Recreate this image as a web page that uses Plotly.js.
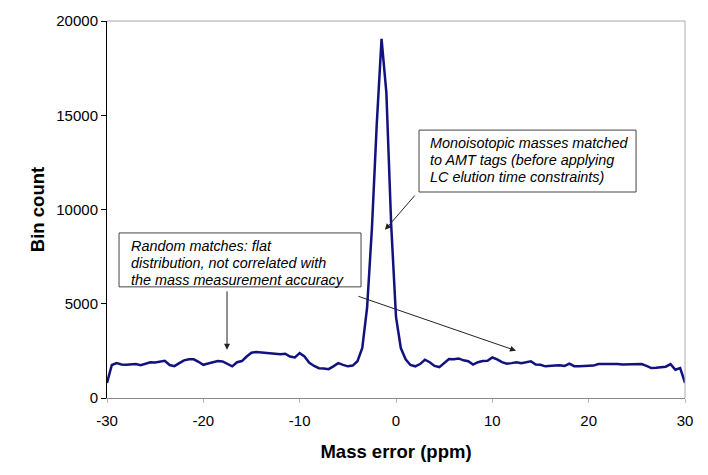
<!DOCTYPE html>
<html>
<head>
<meta charset="utf-8">
<script src="https://cdn.plot.ly/plotly-3.0.1.min.js"></script>
<style>html,body{margin:0;padding:0;background:#fff;}#chart{width:708px;height:475px;}</style>
</head>
<body>
<div id="chart"></div>
<script>
const massErrorStart = -30;
const massErrorStep = 0.5;
const binCounts = [
  800, 1750, 1850, 1780, 1760, 1800, 1800, 1740, 1820, 1900,
  1880, 1940, 1970, 1750, 1690, 1850, 2000, 2060, 2050, 1920,
  1760, 1830, 1900, 1960, 1940, 1830, 1680, 1900, 1960, 2200,
  2400, 2440, 2420, 2390, 2380, 2360, 2320, 2350, 2200, 2150,
  2380, 2200, 1870, 1700, 1580, 1570, 1530, 1680, 1850, 1760,
  1680, 1720, 1950, 2650, 4800, 9000, 14500, 19050, 16200, 9200,
  4300, 2650, 2050, 1750, 1680, 1800, 2030, 1900, 1700, 1640,
  1850, 2070, 2060, 2100, 2000, 1950, 1770, 1900, 1960, 1980,
  2150, 2050, 1900, 1820, 1850, 1900, 1850, 1900, 1950, 1780,
  1760, 1680, 1720, 1730, 1740, 1700, 1820, 1690, 1690, 1690,
  1690, 1720, 1800, 1800, 1820, 1800, 1800, 1780, 1780, 1770,
  1780, 1800, 1700, 1590, 1600, 1620, 1660, 1800, 1500, 1590,
  800
];
const massErrors = binCounts.map((_, i) => massErrorStart + i * massErrorStep);

const xTicks = [-30, -20, -10, 0, 10, 20, 30];
const yTicks = [0, 5000, 10000, 15000, 20000];

const randomLines = ["Random matches: flat", "distribution, not correlated with", "the mass measurement accuracy"];
const peakLines = ["Monoisotopic masses matched", "to AMT tags (before applying", "LC elution time constraints)"];

const font = "Liberation Sans, Arial, sans-serif";

const trace = {
  x: massErrors, y: binCounts, type: 'scatter', mode: 'lines',
  line: {color: '#12127f', width: 2.5}, hoverinfo: 'skip'
};

const arrowStyle = {showarrow: true, text: '', xref: 'x', yref: 'y', axref: 'x', ayref: 'y',
  arrowhead: 2, arrowsize: 1.2, arrowwidth: 1, arrowcolor: '#222'};

function textLines(lines, x, ys) {
  return lines.map((t, i) => ({
    text: t, x: x, y: ys[i], xref: 'x', yref: 'y', xanchor: 'left', yanchor: 'middle',
    showarrow: false, font: {family: font, size: 14.4, color: '#000', style: 'italic'}
  }));
}

const layout = {
  width: 708, height: 475,
  margin: {l: 107, r: 23, t: 21, b: 77},
  paper_bgcolor: '#fff', plot_bgcolor: '#fff',
  showlegend: false,
  xaxis: {
    range: [-30, 30], tickvals: xTicks, ticktext: xTicks.map(String),
    showgrid: false, zeroline: false, showline: true, linecolor: '#888', linewidth: 1,
    ticks: 'outside', ticklen: 4, tickcolor: '#bbb', ticklabelstandoff: 5,
    tickfont: {family: font, size: 15, color: '#000'},
    title: {text: '<b>Mass error (ppm)</b>', font: {family: font, size: 18.5, color: '#000'}, standoff: 17}
  },
  yaxis: {
    range: [0, 20000], tickvals: yTicks, ticktext: yTicks.map(String),
    showgrid: false, zeroline: false, showline: true, linecolor: '#000', linewidth: 1,
    ticks: 'outside', ticklen: 5, tickcolor: '#000',
    tickfont: {family: font, size: 15, color: '#000'},
    title: {text: '<b>Bin count</b>', font: {family: font, size: 18.5, color: '#000'}, standoff: 6}
  },
  shapes: [
    {type: 'line', xref: 'paper', yref: 'paper', x0: 0, x1: 1, y0: 1, y1: 1, line: {color: '#c4c4c4', width: 1.5}},
    {type: 'line', xref: 'paper', yref: 'paper', x0: 1, x1: 1, y0: 0, y1: 1, line: {color: '#aaa', width: 1}},
    {type: 'rect', xref: 'x', yref: 'y', x0: -28.75, x1: -3.63, y0: 5896, y1: 8756, line: {color: '#444', width: 1}, fillcolor: '#fff', layer: 'above'},
    {type: 'rect', xref: 'x', yref: 'y', x0: 2.39, x1: 24.92, y0: 10928, y1: 14212, line: {color: '#444', width: 1}, fillcolor: '#fff', layer: 'above'}
  ],
  annotations: [
    Object.assign({}, arrowStyle, {x: -17.54, y: 2560, ax: -17.54, ay: 5740}),
    Object.assign({}, arrowStyle, {x: 12.46, y: 2510, ax: -4.05, ay: 5420}),
    Object.assign({}, arrowStyle, {x: -1.14, y: 8920, ax: 2.08, ay: 10820})
  ].concat(
    textLines(randomLines, -27.72, [8067, 7167, 6266]),
    textLines(peakLines, 3.32, [13523, 12623, 11749])
  )
};

Plotly.newPlot('chart', [trace], layout, {staticPlot: true, displayModeBar: false});
</script>
</body>
</html>
